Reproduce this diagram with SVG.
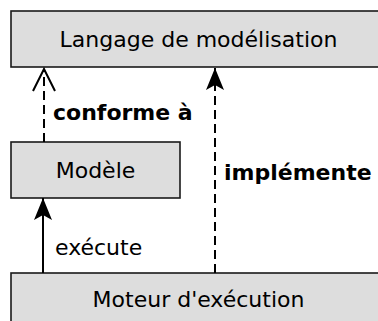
<svg xmlns="http://www.w3.org/2000/svg" width="378" height="321" viewBox="0 0 378 321">
<defs>
<style>
.box{fill:#dddddd;stroke:#1a1a1a;stroke-width:1.6}
.lbl{font-family:"DejaVu Sans",sans-serif;font-size:22px;fill:#000}
.b{font-weight:bold}
.c{stroke:#000;stroke-width:2;fill:none}
.d{stroke-dasharray:9,5}
</style>
<marker id="filled" viewBox="0 0 22 18" refX="22" refY="9" markerWidth="22" markerHeight="18" markerUnits="userSpaceOnUse" orient="auto">
<path d="M22,9 L0,0 L5,9 L0,18 Z" fill="#000"/>
</marker>
</defs>
<rect x="0" y="0" width="378" height="321" fill="#fff"/>
<g id="langage">
<rect class="box" x="11" y="11" width="376" height="56"/>
<text class="lbl" x="198.5" y="47" text-anchor="middle">Langage de modélisation</text>
</g>
<g id="modele">
<rect class="box" x="11" y="142" width="169" height="56"/>
<text class="lbl" x="95.5" y="178" text-anchor="middle">Modèle</text>
</g>
<g id="moteur">
<rect class="box" x="11" y="273" width="376" height="56"/>
<text class="lbl" x="198.5" y="307" text-anchor="middle">Moteur d'exécution</text>
</g>
<g id="connectors">
<line class="c d" x1="44" y1="142" x2="44" y2="70"/>
<path class="c" d="M33,91 L44,69 L55,91"/>
<text class="lbl b" x="53" y="120">conforme à</text>
<line class="c d" x1="215" y1="273" x2="215" y2="84"/>
<line class="c" x1="215" y1="86" x2="215" y2="68" marker-end="url(#filled)"/>
<text class="lbl b" x="224" y="180">implémente</text>
<line class="c" x1="43" y1="273" x2="43" y2="198" marker-end="url(#filled)"/>
<text class="lbl" x="55" y="255">exécute</text>
</g>
</svg>
